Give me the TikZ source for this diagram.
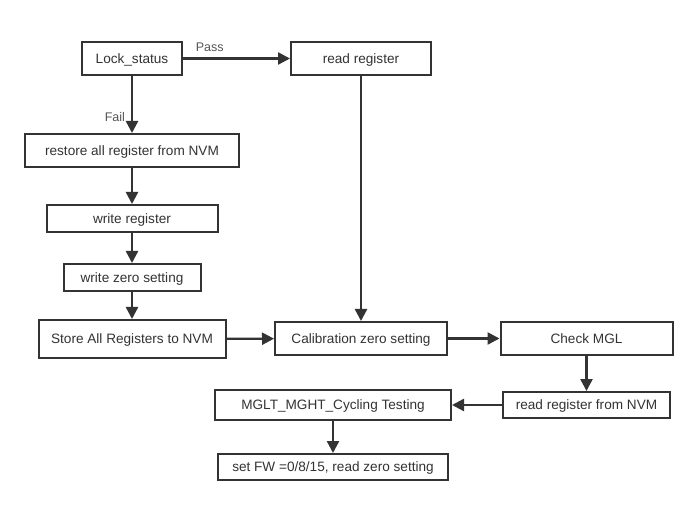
\documentclass[tikz,border=0pt]{standalone}
\usepackage{fontspec}
\setmainfont{Liberation Sans}
\usetikzlibrary{arrows.meta}

\definecolor{inkgray}{HTML}{333333}
\definecolor{labelgray}{HTML}{555555}

\tikzset{
  flowbox/.style={draw=inkgray, line width=1.5pt, fill=white, inner sep=0pt,
    font=\fontsize{10.2}{12}\selectfont, text=inkgray,
    text height=7.3pt, text depth=0pt},
  flowline/.style={draw=inkgray, line width=1.8pt,
    -{Triangle[length=9pt, width=9pt]}},
  flowlabel/.style={font=\fontsize{9.4}{11}\selectfont, text=labelgray}
}

\begin{document}
\begin{tikzpicture}[x=0.75pt, y=-0.75pt]
  \useasboundingbox (0,0) rectangle (698,505);

  % Left branch (Fail)
  \node[flowbox, minimum width=75pt, minimum height=24.75pt] (lock) at (132,58.5) {Lock\_status};
  \node[flowbox, minimum width=160.5pt, minimum height=24.75pt] (restore) at (132,150.5) {restore all register from NVM};
  \node[flowbox, minimum width=128.25pt, minimum height=20.25pt] (writereg) at (132,218.5) {write register};
  \node[flowbox, minimum width=102.75pt, minimum height=20.25pt] (writezero) at (132,277.5) {write zero setting};
  \node[flowbox, minimum width=140.25pt, minimum height=28.5pt] (store) at (132,339) {Store All Registers to NVM};

  % Right branch (Pass)
  \node[flowbox, minimum width=105pt, minimum height=24.75pt] (readreg) at (361,58.5) {read register};
  \node[flowbox, minimum width=129pt, minimum height=24.75pt] (calib) at (361,338.5) {Calibration zero setting};
  \node[flowbox, minimum width=129pt, minimum height=24.75pt] (check) at (586.5,338.5) {Check MGL};
  \node[flowbox, minimum width=125.25pt, minimum height=19.5pt] (readnvm) at (586.5,405) {read register from NVM};
  \node[flowbox, minimum width=177pt, minimum height=22.5pt] (cycling) at (333,405) {MGLT\_MGHT\_Cycling Testing};
  \node[flowbox, minimum width=172.5pt, minimum height=19.5pt] (setfw) at (333,467) {set FW =0/8/15, read zero setting};

  % Connectors
  \draw[flowline] (lock) -- node[flowlabel, above, pos=0.25, yshift=1pt] {Pass} (readreg);
  \draw[flowline] (lock) -- node[flowlabel, left, pos=0.72, xshift=-1pt] {Fail} (restore);
  \draw[flowline] (restore) -- (writereg);
  \draw[flowline] (writereg) -- (writezero);
  \draw[flowline] (writezero) -- (store);
  \draw[flowline] (store) -- (calib);
  \draw[flowline] (readreg) -- (calib);
  \draw[flowline] (calib) -- (check);
  \draw[flowline] (check) -- (readnvm);
  \draw[flowline] (readnvm) -- (cycling);
  \draw[flowline] (cycling) -- (setfw);

\end{tikzpicture}
\end{document}
